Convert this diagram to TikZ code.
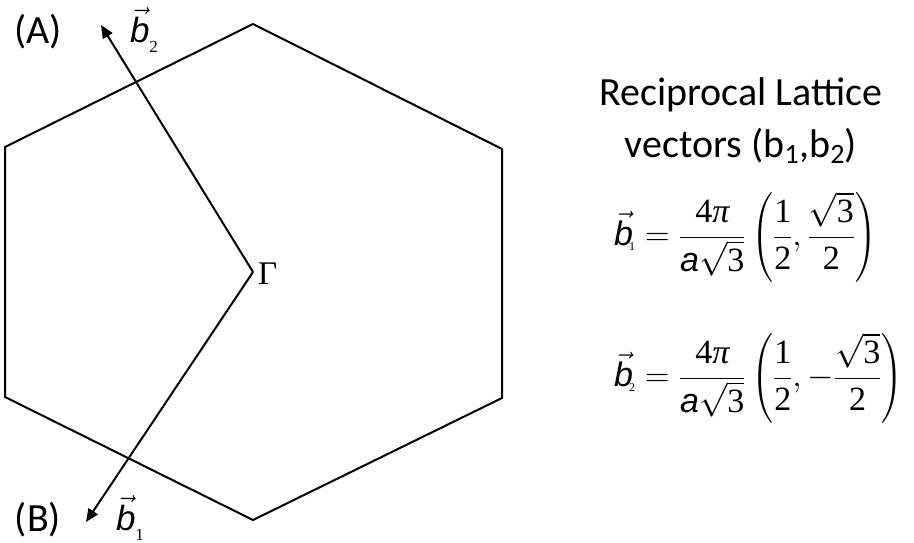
\RequirePackage{fix-cm}
\documentclass[tikz,border=0pt]{standalone}
\usepackage{amsmath}
\usepackage{fontspec}
\setmainfont{Carlito}
\newfontfamily\arialf{Liberation Sans}
\newfontfamily\timesf{Liberation Serif}
\usetikzlibrary{arrows.meta}
\newcommand{\bvec}[1]{$\vec{\hbox{\arialf\itshape b}}$\raisebox{-0.3em}{\timesf\fontsize{17}{17}\selectfont #1}}
\newcommand{\tn}[1]{\hbox{\timesf #1}}
\newcommand{\eqb}[1]{\vec{\hbox{\arialf\itshape b}}_{\!\hbox{\timesf\fontsize{12}{12}\selectfont #1}}}
\newcommand{\fourpi}{\dfrac{\tn{4\itshape π}}{\hbox{\arialf\itshape a}\sqrt{\tn{3}}}}
\begin{document}
\begin{tikzpicture}[x=1pt,y=-1pt,
  edge/.style={line width=2pt,line join=miter},
  vecarrow/.style={line width=2pt,-{Triangle[length=13pt,width=11pt]}},
  lbl/.style={inner sep=0pt,font=\fontsize{40}{52}\selectfont},
  eqn/.style={inner sep=0pt,anchor=west,font=\fontsize{34}{40}\selectfont}]
\useasboundingbox (0,0) rectangle (914,543);
\coordinate (T) at (253,24);
\coordinate (RU) at (502,149);
\coordinate (RL) at (502,398);
\coordinate (B) at (253,520);
\coordinate (LL) at (5,397);
\coordinate (LU) at (5,147);
\draw[edge] (T) -- (RU) -- (RL) -- (B) -- (LL) -- (LU) -- cycle;
\coordinate (G) at (253,272);
\coordinate (tipA) at (101,25);
\coordinate (tipB) at (86,522);
\draw[vecarrow] (G) -- (tipA);
\draw[vecarrow] (G) -- (tipB);
\node[anchor=west,inner sep=0pt,font=\timesf\fontsize{33}{33}\selectfont] (gam) at (258,274) {Γ};
\node[lbl] (labA) at (38,32) {(A)};
\node[lbl] (labB) at (38,520) {(B)};
\node[inner sep=0pt,font=\fontsize{35}{35}\selectfont] (vb2) at (144,30) {\bvec{2}};
\node[inner sep=0pt,font=\fontsize{35}{35}\selectfont] (vb1) at (130,518) {\bvec{1}};
\node[lbl,align=center] (title) at (741,121) {Reciprocal Lattice\\vectors (b\textsubscript{1},b\textsubscript{2})};
\node[eqn] (eq1) at (614,237)
  {$\eqb{1}=\fourpi\left(\dfrac{\tn{1}}{\tn{2}},\dfrac{\sqrt{\tn{3}}}{\tn{2}}\right)$};
\node[eqn] (eq2) at (614,378)
  {$\eqb{2}=\fourpi\left(\dfrac{\tn{1}}{\tn{2}},-\dfrac{\sqrt{\tn{3}}}{\tn{2}}\right)$};
\end{tikzpicture}
\end{document}
